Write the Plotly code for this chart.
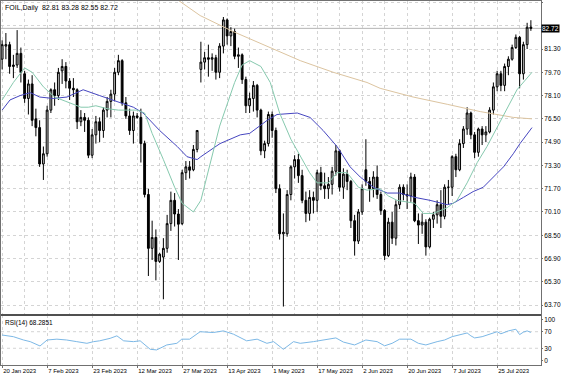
import plotly.graph_objects as go

# ---------------- data ----------------
bar_index = list(range(142))
opens = [80.6,81.5,81.6,80.1,80.2,81.0,79.6,77.9,78.9,76.5,75.9,73.4,74.1,77.1,78.5,78.1,79.8,80.1,79.1,78.6,
         78.5,76.3,76.6,76.4,74.0,75.4,76.3,75.7,77.1,77.7,78.2,79.7,80.5,77.6,76.7,75.7,76.7,76.6,74.8,71.3,
         67.6,68.35,66.7,67.0,67.6,69.3,70.9,69.96,69.3,72.8,73.2,73.0,74.4,79.9,80.4,80.7,80.6,80.7,79.7,81.5,
         83.3,82.2,82.5,80.8,80.9,79.2,77.4,77.9,78.8,77.1,74.3,74.8,76.8,75.7,71.7,68.6,68.6,71.3,73.2,73.7,
         72.6,70.9,70.0,71.1,70.9,72.8,71.9,71.7,72.0,72.9,74.3,71.8,72.7,72.2,69.5,68.1,70.1,73.0,72.2,71.7,
         72.5,71.3,70.2,67.1,69.4,68.3,70.6,71.8,71.3,71.2,72.5,69.5,69.2,69.4,67.7,69.6,69.9,70.6,69.8,71.8,
         71.8,73.9,73.0,74.8,75.8,76.9,75.4,74.2,75.8,75.4,75.6,77.1,78.7,79.6,78.8,80.1,80.6,81.4,82.1,79.6,
         81.6,82.81]
highs = [81.9,82.4,81.8,80.9,82.6,81.4,79.8,79.2,79.5,77.2,76.4,74.6,77.4,78.6,79.0,80.0,80.6,80.4,79.3,79.3,
         78.6,77.1,76.9,76.6,75.8,76.7,76.6,77.3,78.0,78.5,80.0,80.9,80.6,78.0,77.2,77.0,76.9,77.2,75.0,71.7,
         69.5,68.9,67.3,68.3,69.9,71.5,71.4,70.3,73.0,73.6,73.6,74.7,75.7,81.8,81.1,81.6,81.0,80.9,81.7,83.5,
         83.4,82.8,82.7,81.4,81.0,79.4,78.3,79.1,78.9,77.2,75.0,77.0,77.0,75.9,72.0,70.0,71.6,73.3,74.0,74.1,
         73.0,71.5,71.6,71.5,73.0,73.2,72.8,72.5,73.2,74.7,74.4,73.1,73.0,72.3,69.9,70.3,72.0,75.1,72.5,72.9,
         73.3,71.5,70.3,69.7,70.1,70.9,72.0,72.0,72.0,72.8,72.7,70.0,70.0,69.6,69.7,70.1,70.9,71.6,72.0,72.3,
         74.0,74.1,75.1,76.0,77.3,77.0,75.6,75.9,76.0,76.0,77.3,79.0,79.8,79.8,80.3,80.8,81.6,82.3,82.2,81.8,
         83.1,83.28]
lows = [79.9,80.6,79.6,79.3,80.0,79.0,77.6,76.8,76.0,75.3,73.2,72.3,73.9,76.9,77.4,77.8,78.9,78.6,77.8,78.0,
        75.8,76.0,75.6,73.8,73.8,74.8,74.9,75.2,76.6,76.6,77.7,79.5,77.4,76.5,75.4,74.8,76.5,73.5,71.1,65.7,
        66.8,65.4,66.6,64.1,67.3,68.8,69.1,66.8,69.2,72.3,72.4,72.9,74.2,79.0,79.9,79.4,79.8,79.2,79.3,81.0,
        81.6,81.5,80.6,80.0,78.9,76.9,76.9,77.0,76.6,74.0,73.8,74.6,75.2,71.4,68.2,63.6,68.4,70.9,72.4,72.1,
        70.7,69.4,69.5,70.0,70.1,71.6,71.0,71.0,71.3,72.6,71.5,71.0,71.6,69.0,67.1,67.9,69.9,71.9,70.8,71.1,
        71.0,69.9,66.8,67.0,67.9,67.8,70.3,70.9,70.3,70.8,69.4,67.9,68.6,67.1,67.6,69.0,69.3,69.0,69.6,70.6,
        71.2,72.5,72.9,74.5,75.4,75.1,73.8,73.9,74.7,74.9,75.5,76.8,78.4,78.4,78.4,79.5,80.5,81.3,78.6,79.2,
        81.3,82.55]
closes = [81.6,81.6,80.1,80.2,81.0,79.7,77.9,78.9,76.4,75.9,73.4,74.1,77.1,78.5,78.1,79.7,80.1,79.1,78.6,78.5,
          76.3,76.6,76.4,74.0,75.4,76.3,75.7,77.1,77.7,78.2,79.7,80.5,77.6,76.7,75.7,76.7,76.6,74.8,71.3,67.6,
          68.35,66.7,67.2,67.6,69.3,70.9,69.96,69.26,72.8,73.2,72.97,74.4,75.7,80.4,80.7,80.6,80.7,79.7,81.5,83.3,
          82.2,82.5,80.8,80.9,79.2,77.4,77.9,78.8,77.1,74.3,74.8,76.8,75.7,71.7,68.6,68.7,71.3,73.2,73.7,72.6,
          70.9,70.0,71.1,70.9,72.8,71.9,71.7,72.0,72.9,74.3,71.8,72.7,72.2,69.5,68.1,70.1,71.7,72.2,71.7,72.5,
          71.3,70.2,67.1,69.4,68.3,70.6,71.8,71.3,71.2,72.5,69.5,69.2,69.4,67.7,69.6,69.9,70.6,69.8,71.8,71.8,
          73.9,73.0,74.8,75.8,76.9,75.4,74.2,75.8,75.4,75.6,77.1,78.7,79.6,78.8,80.1,80.6,81.4,82.1,79.6,81.6,
          82.8,82.72]

date_ticks = [0, 12, 24, 36, 48, 60, 72, 84, 96, 108, 120, 132]
date_labels = ["20 Jan 2023", "7 Feb 2023", "23 Feb 2023", "12 Mar 2023", "27 Mar 2023", "13 Apr 2023",
               "1 May 2023", "17 May 2023", "2 Jun 2023", "20 Jun 2023", "7 Jul 2023", "25 Jul 2023"]
price_ticks = [84.5, 82.9, 81.3, 79.7, 78.1, 76.5, 74.9, 73.3, 71.7, 70.1, 68.5, 66.9, 65.3, 63.7]
price_labels = ["84.50", "", "81.30", "79.70", "78.10", "76.50", "74.90", "73.30", "71.70", "70.10",
                "68.50", "66.90", "65.30", "63.70"]

ma_fast_x = [0, 3, 6, 8, 11, 14, 17, 21, 23, 25, 28, 31, 33, 36, 38, 40, 43, 46, 48, 51, 53, 58, 62, 64, 66,
             69, 71.5, 74, 77, 79.5, 82, 84, 87, 89.3, 92, 95, 97.3, 100.8, 103, 105.3, 110, 112.3, 115,
             118.7, 121.3, 124, 126.7, 129.3, 132, 134.7, 137.3, 141.3]
ma_fast_v = [77.8, 79.0, 80.0, 79.7, 78.7, 78.0, 77.7, 77.3, 77.3, 77.4, 77.2, 77.1, 77.1, 77.1, 76.9, 75.5,
             73.7, 71.8, 70.7, 70.1, 70.9, 76.0, 79.0, 80.2, 80.5, 80.1, 79.0, 76.9, 75.1, 73.9, 72.8, 72.1,
             72.1, 72.8, 72.8, 71.8, 71.6, 71.7, 71.2, 70.9, 70.7, 70.0, 70.0, 70.4, 70.9, 72.1, 73.5, 74.6,
             75.9, 77.3, 78.5, 79.7]
ma_mid_x = [0, 2.1, 4.8, 7.5, 10, 13.6, 17.3, 21.6, 26, 30.7, 35, 37.6, 42, 46.7, 49.3, 52, 53, 58.1, 63.5,
            66, 70.7, 73.3, 78.7, 82.1, 85.6, 89.3, 92.8, 95.5, 99, 102.7, 106, 110.1, 114.1, 118.7, 120.3,
            123, 125.6, 128.3, 131, 133.7, 136.3, 138.1, 141.3]
ma_mid_v = [77.1, 77.8, 78.1, 78.3, 78.0, 77.9, 78.0, 78.5, 78.1, 77.7, 77.3, 76.9, 75.7, 74.6, 73.9, 73.7,
            73.9, 74.8, 75.4, 75.5, 76.4, 76.8, 76.9, 76.6, 75.7, 74.6, 73.2, 72.5, 71.8, 71.4, 71.4, 71.1,
            70.9, 70.6, 70.7, 71.1, 71.5, 71.8, 72.5, 73.2, 74.1, 74.8, 75.9]
ma_slow_x = [46.7, 52.8, 61.6, 70.7, 79.5, 88.3, 97.3, 100.8, 109.6, 118.7, 127.5, 136.3, 141.3]
ma_slow_v = [84.7, 83.6, 82.5, 81.5, 80.5, 79.7, 79.0, 78.6, 78.0, 77.5, 77.0, 76.6, 76.5]

rsi_x = [0, 3, 5.7, 7.5, 10.1, 12, 14.6, 17.2, 19.9, 22.6, 24.4, 26, 28.8, 30.6, 32.4, 35, 36.8, 39.5, 41.2,
         43.9, 46.6, 47.9, 50, 52.8, 56.3, 59, 61.7, 65.2, 68, 70.6, 72.4, 75, 77.7, 79.5, 83, 86, 89, 91,
         94, 97, 100, 102, 104, 106, 109, 111, 113, 116, 118, 120, 122, 124, 125, 126, 128, 130, 132, 133,
         135, 137, 138, 139, 140, 141]
rsi_v = [62, 58, 50, 46, 35.5, 50, 52, 50, 46, 42, 46, 48, 54, 60, 48, 46, 48, 27.5, 26, 38, 42, 52, 52, 70,
         68, 72, 64, 48, 52, 42, 46, 27.5, 46, 42, 46, 50, 55, 45, 38, 50, 46, 36, 42, 52, 52, 42, 38, 46,
         50, 58, 62, 67, 60, 55, 58, 64, 70, 65, 72, 76, 63, 69, 72, 68.3]
rsi_ticks = [100, 70, 30, 0]

header = "FOIL,Daily  82.81 83.28 82.55 82.72"
rsi_title = "RSI(14) 68.2851"
last_price = 82.72

# ---------------- figure ----------------
FONT = "Liberation Sans"
grid = "#d4d4d4"
frame = "#707070"

fig = go.Figure()
fig.add_trace(go.Candlestick(
    x=bar_index, open=opens, high=highs, low=lows, close=closes,
    increasing=dict(fillcolor="#c8c8c8", line=dict(color="#000000", width=1)),
    decreasing=dict(fillcolor="#000000", line=dict(color="#000000", width=1)),
    whiskerwidth=0, showlegend=False, xaxis="x", yaxis="y"))
fig.add_trace(go.Scatter(x=ma_slow_x, y=ma_slow_v, mode="lines", line=dict(color="#dcc4a0", width=1),
                         showlegend=False, xaxis="x", yaxis="y"))
fig.add_trace(go.Scatter(x=ma_mid_x, y=ma_mid_v, mode="lines", line=dict(color="#4646c0", width=1),
                         showlegend=False, xaxis="x", yaxis="y"))
fig.add_trace(go.Scatter(x=ma_fast_x, y=ma_fast_v, mode="lines", line=dict(color="#86c9ae", width=1),
                         showlegend=False, xaxis="x", yaxis="y"))
fig.add_trace(go.Scatter(x=rsi_x, y=rsi_v, mode="lines", line=dict(color="#7cb8e6", width=1),
                         showlegend=False, xaxis="x2", yaxis="y2"))

xr = [-0.3, 143.7]
vgrid = list(range(0, 142, 6))
split = 0.1374
fig.update_layout(
    width=564, height=376,
    margin=dict(l=1, r=23, t=1, b=11, autoexpand=False),
    paper_bgcolor="white", plot_bgcolor="white",
    font=dict(family=FONT, size=7, color="#000000"),
    xaxis=dict(domain=[0, 1], anchor="y", range=xr, rangeslider=dict(visible=False),
               tickvals=vgrid, showticklabels=False, ticks="", automargin=False,
               showgrid=True, gridcolor=grid, griddash="dot", gridwidth=1,
               zeroline=False, showline=True, linecolor=frame, mirror=True),
    yaxis=dict(domain=[split, 1], anchor="x", side="right", range=[63.02, 84.6], automargin=False,
               tickvals=price_ticks, ticktext=price_labels, ticks="outside", ticklen=1,
               tickcolor=frame, showgrid=True, gridcolor=grid, griddash="dot", gridwidth=1,
               zeroline=False, showline=True, linecolor=frame, mirror=True,
               tickfont=dict(size=6.5)),
    xaxis2=dict(domain=[0, 1], anchor="y2", range=xr, tickvals=date_ticks, ticktext=date_labels,
                ticks="outside", ticklen=2, tickcolor=frame, ticklabelposition="outside right",
                tickangle=0, automargin=False,
                showgrid=True, gridcolor=grid, griddash="dot", gridwidth=1,
                zeroline=False, showline=True, linecolor=frame, mirror=True,
                tickfont=dict(size=6)),
    yaxis2=dict(domain=[0, split], anchor="x2", side="right", range=[-10.4, 110.4], automargin=False,
                tickvals=rsi_ticks, ticks="outside", ticklen=1, tickcolor=frame,
                showgrid=False, zeroline=False, showline=True, linecolor=frame, mirror=True,
                tickfont=dict(size=6.5)),
)
for lv in [70, 30]:
    fig.add_shape(type="line", xref="x2 domain", yref="y2", x0=0, x1=1, y0=lv, y1=lv,
                  line=dict(color=grid, width=1, dash="dot"), layer="below")
fig.add_shape(type="line", xref="x domain", yref="y", x0=0, x1=1, y0=last_price, y1=last_price,
              line=dict(color="#b4b4b4", width=1), layer="below")
fig.add_shape(type="line", xref="paper", yref="paper", x0=0, x1=1, y0=split, y1=split,
              line=dict(color="#505050", width=2))
fig.add_annotation(xref="paper", yref="paper", x=0.004, y=0.997, xanchor="left", yanchor="top",
                   text=header, showarrow=False, font=dict(size=7, color="#000000"))
fig.add_annotation(xref="paper", yref="paper", x=0.004, y=split - 0.006, xanchor="left", yanchor="top",
                   text=rsi_title, showarrow=False, font=dict(size=6.5, color="#000000"))
fig.add_annotation(xref="paper", yref="y", x=1.0, y=last_price, xanchor="left", yanchor="middle",
                   text="82.72", showarrow=False, bgcolor="#000000", font=dict(size=6.5, color="#ffffff"),
                   borderpad=0)

fig.write_html("out.html", config={"displayModeBar": False},
               post_script="document.body.style.margin='0';document.body.style.padding='0';")
